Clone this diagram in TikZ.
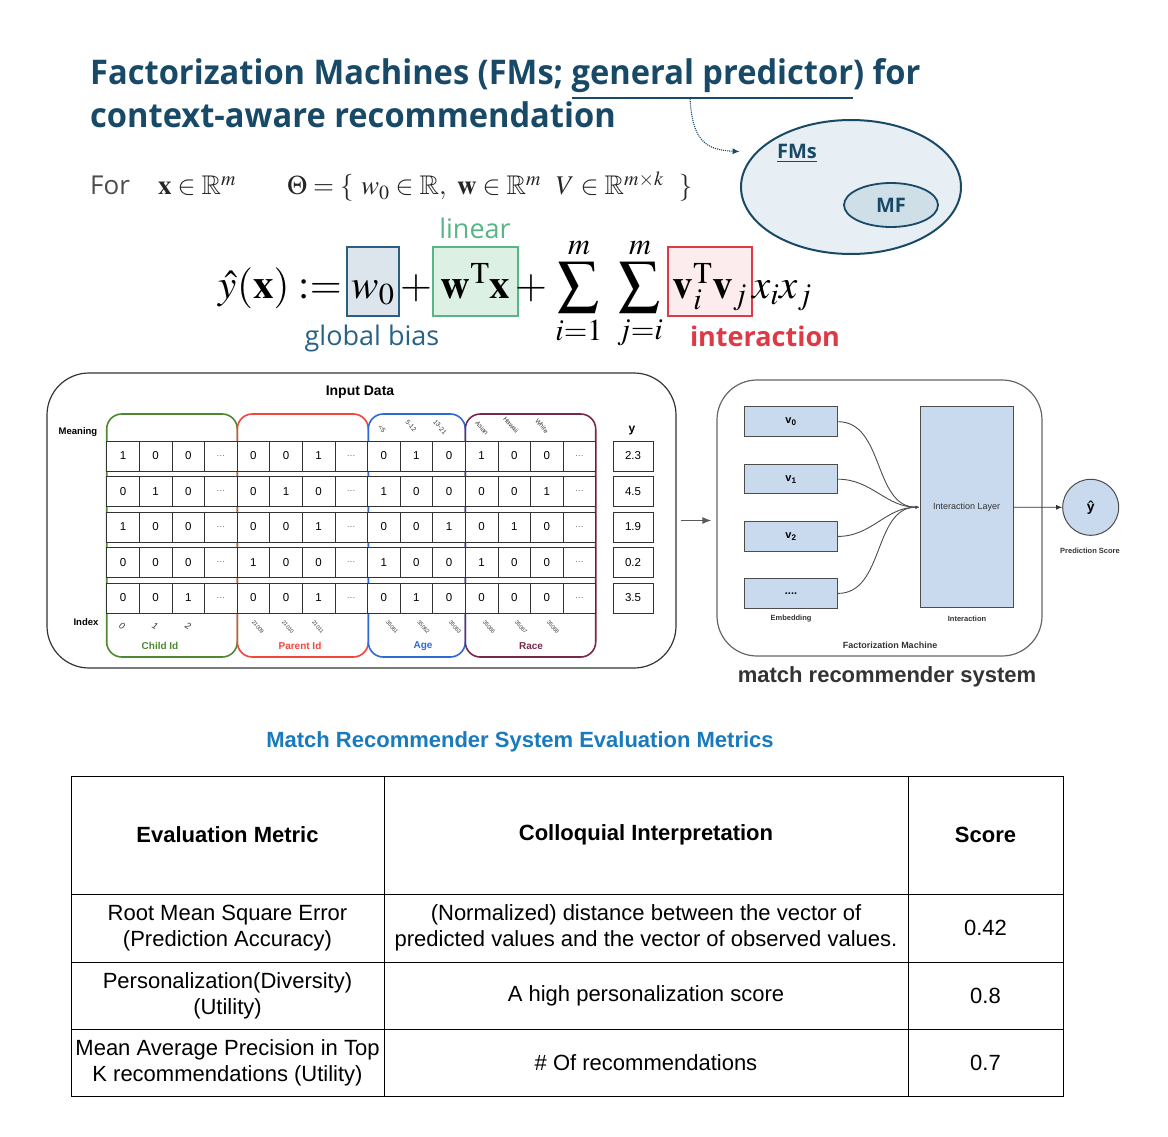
\documentclass[tikz,border=0pt]{standalone}
\usepackage{amssymb}
\usepackage{mathptmx}
\usepackage[no-math]{fontspec}
\setmainfont{Liberation Sans}
\newfontfamily\titlefont[FakeStretch=0.96]{Open Sans}
\newfontfamily\opensans{Open Sans}
\usetikzlibrary{shapes.geometric,arrows.meta,positioning,calc}

\definecolor{titleblue}{RGB}{24,74,104}
\definecolor{ellfill}{RGB}{232,239,244}
\definecolor{mffill}{RGB}{207,223,231}
\definecolor{biasline}{RGB}{44,94,128}
\definecolor{biasfill}{RGB}{220,229,236}
\definecolor{biastext}{RGB}{40,98,135}
\definecolor{lingreen}{RGB}{88,182,134}
\definecolor{linfill}{RGB}{220,240,228}
\definecolor{intred}{RGB}{222,58,70}
\definecolor{intfill}{RGB}{252,236,237}
\definecolor{childgreen}{RGB}{80,136,50}
\definecolor{parentred}{RGB}{240,70,60}
\definecolor{ageblue}{RGB}{45,105,215}
\definecolor{racemaroon}{RGB}{120,40,75}
\definecolor{fmblue}{RGB}{201,218,238}
\definecolor{metblue}{RGB}{25,122,190}

\newcommand{\dd}{{\color{black!60}\fontsize{9}{9}\selectfont\ldots}}

\begin{document}
\begin{tikzpicture}[x=1pt, y=-1pt,
  cell/.style={draw=black!80, fill=white, line width=0.8pt, minimum width=32.6pt, minimum height=30pt, inner sep=0pt, font=\fontsize{11.5}{12}\selectfont},
  ycell/.style={cell, minimum width=40pt},
  grp/.style={line width=1.6pt, rounded corners=15pt},
  grplab/.style={font=\fontsize{10}{10}\selectfont\bfseries},
  toplab/.style={font=\fontsize{6.5}{6.5}\selectfont, rotate=-50, inner sep=0pt, text=black!80},
  idxlab/.style={font=\fontsize{5.5}{5.5}\selectfont, rotate=-50, inner sep=0pt, text=black!80},
  panel/.style={draw=black!80, line width=1.2pt, rounded corners=42pt},
  emb/.style={draw=black!70, fill=fmblue, line width=1pt, minimum width=93pt, minimum height=29.5pt, inner sep=0pt},
  smalllab/.style={font=\fontsize{7.5}{8}\selectfont\bfseries, text=black!80},
  fbox/.style={inner sep=0pt, text height=51pt, text depth=18pt, anchor=base, line width=1.5pt, font=\fontsize{41}{45}\selectfont},
  fmath/.style={inner sep=0pt, anchor=base, font=\fontsize{41}{45}\selectfont},
  tcell/.style={draw, line width=1pt, inner sep=0pt, align=center, font=\fontsize{22}{26}\selectfont},
]
\useasboundingbox (0,0) rectangle (1168,1137);

% title
\node[anchor=base west, inner sep=0pt, text=titleblue, font=\titlefont\bfseries\fontsize{34}{40}\selectfont]
  (title1) at (90,85) {Factorization Machines (FMs; \underline{general predictor}) for};
\node[anchor=base west, inner sep=0pt, text=titleblue, font=\titlefont\bfseries\fontsize{34}{40}\selectfont]
  (title2) at (90,128) {context-aware recommendation};

% FMs and MF
\node[ellipse, draw=titleblue, fill=ellfill, line width=2pt, minimum width=220pt, minimum height=134pt] (fms) at (851,187) {};
\node[ellipse, draw=titleblue, fill=mffill, line width=1.8pt, minimum width=94pt, minimum height=44pt,
  font=\opensans\bfseries\fontsize{20}{20}\selectfont, text=titleblue] (mf) at (891,205) {MF};
\node[font=\opensans\bfseries\fontsize{20}{20}\selectfont, text=titleblue] (fmslab) at (797,153) {\underline{FMs}};
\coordinate (gp) at (690,97);
\draw[densely dotted, line width=1.1pt, titleblue, -{Latex[length=7pt,width=6pt]}, shorten >=16pt]
  (gp) .. controls (692,140) and (705,150) .. (fms.160);

% parameters
\node[anchor=base west, inner sep=0pt, text=black!70, font=\opensans\fontsize{26}{30}\selectfont] (for) at (90,195) {For};
\node[anchor=base west, inner sep=0pt, font=\fontsize{27}{30}\selectfont, text=black!85] (xin) at (158,195)
  {$\mathbf{x}\in\mathbb{R}^m$};
\node[anchor=base west, inner sep=0pt, font=\fontsize{27}{30}\selectfont, text=black!85] (theta) at (287,195)
  {$\Theta=\{\ w_0\in\mathbb{R},\ \mathbf{w}\in\mathbb{R}^m\ \ V\in\mathbb{R}^{m\times k}\ \ \}$};

% model equation
\node[fmath, anchor=base east] (lhs) at (342,298) {$\hat{y}(\mathbf{x}) :=$};
\node[fbox, draw=biasline, fill=biasfill, minimum width=52pt] (w0) at (373,298) {$w_0$};
\node[fmath] (plus1) at (416,298) {$+$};
\node[fbox, draw=lingreen, fill=linfill, minimum width=85pt] (wx) at (475.5,298) {$\mathbf{w}^{\mathrm{T}}\mathbf{x}$};
\node[fmath] (plus2) at (531,298) {$+$};
\node[fmath] (sum1) at (579,298) {$\displaystyle\sum_{i=1}^{m}$};
\node[fmath] (sum2) at (640,298) {$\displaystyle\sum_{j=i}^{m}$};
\node[fbox, draw=intred, fill=intfill, minimum width=84pt] (vv) at (710,298) {$\mathbf{v}_i^{\mathrm{T}}\mathbf{v}_j$};
\node[fmath, anchor=base west] (xx) at (752,298) {$x_i x_j$};
\node[anchor=base, inner sep=0pt, text=lingreen, font=\opensans\fontsize{27}{30}\selectfont] (linlab) at (475,238) {linear};
\node[anchor=base, inner sep=0pt, text=biastext, font=\opensans\fontsize{27}{30}\selectfont] (biaslab) at (372,345) {global bias};
\node[anchor=base, inner sep=0pt, text=intred, font=\opensans\bfseries\fontsize{27}{30}\selectfont] (intlab) at (765,346) {interaction};

% input data
\node[panel, minimum width=629pt, minimum height=295pt] (inp) at (361.5,520.5) {};
\node[font=\bfseries\fontsize{14}{14}\selectfont] (inptitle) at (360,392) {Input Data};
\draw[grp, draw=childgreen] (106.7,414) rectangle (237.3,657);
\draw[grp, draw=parentred] (237.3,414) rectangle (368.3,657);
\draw[grp, draw=ageblue] (368.3,414) rectangle (465.3,657);
\draw[grp, draw=racemaroon] (465.3,414) rectangle (595.7,657);
\node[font=\bfseries\fontsize{9.5}{10}\selectfont] (meaning) at (78,432) {Meaning};
\node[font=\bfseries\fontsize{9.5}{10}\selectfont] (index) at (86,622) {Index};
\node[font=\bfseries\fontsize{12}{12}\selectfont] (ylab) at (632,431) {y};
\foreach \rowvals [count=\rw] in {
  {1,0,0,\dd,0,0,1,\dd,0,1,0,1,0,0,\dd},
  {0,1,0,\dd,0,1,0,\dd,1,0,0,0,0,1,\dd},
  {1,0,0,\dd,0,0,1,\dd,0,0,1,0,1,0,\dd},
  {0,0,0,\dd,1,0,0,\dd,1,0,0,1,0,0,\dd},
  {0,0,1,\dd,0,0,1,\dd,0,1,0,0,0,0,\dd}}
  \foreach \val [count=\cl] in \rowvals
    \node[cell] (c\rw-\cl) at ({90.4+32.6*\cl},{456+35.5*(\rw-1)}) {\val};
\foreach \yv [count=\rw] in {2.3,4.5,1.9,0.2,3.5}
  \node[ycell] (y\rw) at (633,{456+35.5*(\rw-1)}) {\yv};
% header and index labels
\foreach \lab/\xx/\yy [count=\k] in {<5/382/429, 5-12/411/426, 13-21/440/427}
  \node[toplab] (ageh\k) at (\xx,\yy) {\lab};
\foreach \lab/\xx/\yy [count=\k] in {Asian/482/428, Hawaii/511/425, White/542/426}
  \node[toplab] (raceh\k) at (\xx,\yy) {\lab};
\foreach \lab [count=\k] in {0,1,2}
  \node[font=\itshape\fontsize{9}{9}\selectfont, rotate=-30, text=black!80] (cidx\k) at ({89+33*\k},626) {\lab};
\foreach \lab [count=\k] in {21009,21010,21011}
  \node[idxlab] (pidx\k) at ({228+30*\k},627) {\lab};
\foreach \lab [count=\k] in {35061,35062,35063}
  \node[idxlab] (aidx\k) at ({360.5+31.5*\k},627) {\lab};
\foreach \lab [count=\k] in {35066,35067,35068}
  \node[idxlab] (ridx\k) at ({457+32*\k},627) {\lab};
\node[grplab, text=childgreen] (childlab) at (160,646) {Child Id};
\node[grplab, text=parentred] (parentlab) at (300,646) {Parent Id};
\node[grplab, text=ageblue] (agelab) at (423,646) {Age};
\node[grplab, text=racemaroon] (racelab) at (531,646) {Race};

% factorization machine
\node[panel, draw=black!60, minimum width=325pt, minimum height=276pt, rounded corners=40pt] (fmp) at (879.5,518) {};
\draw[-{Latex[length=9pt,width=7pt]}, black!65, line width=1.2pt, shorten <=4pt, shorten >=5pt]
  (inp.east) -- (inp.east -| fmp.west);
\node[emb] (emb0) at (791,421.7) {\bfseries\fontsize{11}{11}\selectfont v\textsubscript{0}};
\node[emb] (emb1) at (791,479.2) {\bfseries\fontsize{11}{11}\selectfont v\textsubscript{1}};
\node[emb] (emb2) at (791,536.4) {\bfseries\fontsize{11}{11}\selectfont v\textsubscript{2}};
\node[emb] (emb3) at (791,593.4) {\bfseries\fontsize{11}{11}\selectfont ....};
\node[emb, minimum width=93.3pt, minimum height=201pt, font=\fontsize{9}{9}\selectfont, text=black!80] (inter) at (966.7,507.2) {Interaction Layer};
\foreach \i in {0,...,3}
  \draw[black!70, line width=0.9pt, -{Latex[length=4pt,width=3pt]}] (emb\i.east) to[out=0, in=180] (inter.west);
\node[circle, draw=black!70, fill=fmblue, line width=1pt, minimum size=56pt, inner sep=0pt,
  font=\bfseries\fontsize{14}{14}\selectfont] (pred) at (1090.7,507.3) {ŷ};
\draw[-{Latex[length=6pt,width=5pt]}, black!80, line width=0.9pt] (inter.east) -- (pred.west);
\node[smalllab] (predlab) at (1090,551) {Prediction Score};
\node[smalllab] (emblab) at (791,619) {Embedding};
\node[smalllab] (interlab) at (967,619) {Interaction};
\node[smalllab, font=\fontsize{9}{9}\selectfont\bfseries] (fmlab) at (890,645) {Factorization Machine};
\node[font=\bfseries\fontsize{22}{22}\selectfont, text=black!80] (matchlab) at (887,677) {match recommender system};

% metrics table
\node[font=\bfseries\fontsize{22}{22}\selectfont, text=metblue] (mettitle) at (520,742) {Match Recommender System Evaluation Metrics};
\node[tcell, minimum width=313pt, minimum height=118pt, font=\fontsize{22}{26}\selectfont\bfseries] (h1) at (227.5,835) {Evaluation Metric};
\node[tcell, minimum width=524pt, minimum height=118pt, font=\fontsize{22}{26}\selectfont\bfseries] (h2) at (646,835) {Colloquial Interpretation};
\node[tcell, minimum width=155pt, minimum height=118pt, font=\fontsize{22}{26}\selectfont\bfseries] (h3) at (985.5,835) {Score};
\node[tcell, minimum width=313pt, minimum height=68pt] (a1) at (227.5,928) {Root Mean Square Error\\(Prediction Accuracy)};
\node[tcell, minimum width=524pt, minimum height=68pt] (a2) at (646,928) {(Normalized) distance between the vector of\\predicted values and the vector of observed values.};
\node[tcell, minimum width=155pt, minimum height=68pt] (a3) at (985.5,928) {0.42};
\node[tcell, minimum width=313pt, minimum height=67pt] (b1) at (227.5,995.5) {Personalization(Diversity)\\(Utility)};
\node[tcell, minimum width=524pt, minimum height=67pt] (b2) at (646,995.5) {A high personalization score};
\node[tcell, minimum width=155pt, minimum height=67pt] (b3) at (985.5,995.5) {0.8};
\node[tcell, minimum width=313pt, minimum height=67pt] (d1) at (227.5,1062.5) {Mean Average Precision in Top\\K recommendations (Utility)};
\node[tcell, minimum width=524pt, minimum height=67pt] (d2) at (646,1062.5) {\# Of recommendations};
\node[tcell, minimum width=155pt, minimum height=67pt] (d3) at (985.5,1062.5) {0.7};
\end{tikzpicture}
\end{document}
